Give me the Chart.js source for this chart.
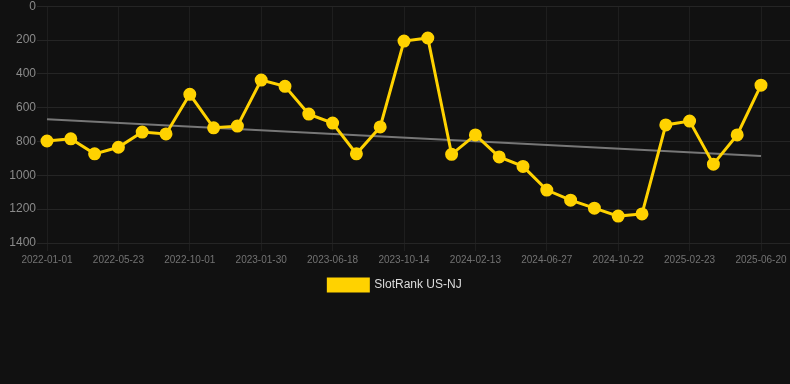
<!DOCTYPE html>
<html>
<head>
<meta charset="utf-8">
<script src="https://cdn.jsdelivr.net/npm/chart.js@4.4.0/dist/chart.umd.min.js"></script>
<style>
    html, body { margin: 0; padding: 0; background: #111111; overflow: hidden; }
    #wrap { width: 790px; height: 303px; margin-top: -2px; }
</style>
</head>
<body>
<div id="wrap"><canvas id="chart"></canvas></div>
<script>
var dates = ["2022-01-01", "2022-02-17", "2022-04-05", "2022-05-23", "2022-07-05", "2022-08-18",
    "2022-10-01", "2022-11-10", "2022-12-20", "2023-01-30", "2023-03-16", "2023-05-02",
    "2023-06-18", "2023-07-27", "2023-09-05", "2023-10-14", "2023-11-24", "2024-01-03",
    "2024-02-13", "2024-03-28", "2024-05-13", "2024-06-27", "2024-08-05", "2024-09-13",
    "2024-10-22", "2024-12-02", "2025-01-12", "2025-02-23", "2025-04-03", "2025-05-12",
    "2025-06-20"];

var rank_nj = [797, 784, 873, 834, 744, 755, 521, 719, 709, 437, 474, 638, 691, 873, 714, 206,
    188, 876, 761, 891, 947, 1087, 1147, 1194, 1241, 1228, 702, 679, 934, 761, 467];

// trend line, only its two ends are known
var trend_start = 668;
var trend_end = 886;

var yellow = '#ffd200';
var trend = Array(dates.length).fill(null);
trend[0] = trend_start;
trend[trend.length - 1] = trend_end;

var yScale = {
    reverse: true,
    min: 0,
    max: 1400,
    ticks: {
        stepSize: 200,
        color: '#8a8a8a',
        font: { size: 12 },
        padding: 1,
        callback: function (v) { return String(v); }
    },
    grid: { color: '#252525', tickLength: 10 },
    border: { display: false },
    afterFit: function (axis) { axis.width = 47; }
};

var ctx = document.getElementById('chart').getContext('2d');
var rankChart = new Chart(ctx, {
    type: 'line',
    data: {
        labels: dates,
        datasets: [{
            label: 'SlotRank US-NJ',
            data: rank_nj,
            borderColor: yellow,
            backgroundColor: yellow,
            borderWidth: 3,
            pointRadius: 5,
            pointHoverRadius: 5,
            pointBackgroundColor: yellow,
            pointBorderColor: yellow,
            tension: 0
        }, {
            label: 'trend',
            data: trend,
            spanGaps: true,
            borderColor: '#777777',
            borderWidth: 2,
            pointRadius: 0
        }]
    },
    options: {
        responsive: true,
        maintainAspectRatio: false,
        animation: false,
        scales: {
            x: {
                ticks: {
                    color: '#737373',
                    font: { size: 10 },
                    autoSkip: true,
                    maxTicksLimit: 11,
                    maxRotation: 0
                },
                grid: { color: '#1e1e1e' },
                border: { display: false }
            },
            y: yScale,
            // empty right axis, only there so the grid runs to the edge
            y2: Object.assign({}, yScale, {
                position: 'right',
                ticks: { display: false, stepSize: 200 },
                grid: { color: '#252525', drawOnChartArea: false, tickLength: 29 },
                afterFit: function (axis) { axis.width = 29; }
            })
        },
        plugins: {
            legend: {
                position: 'bottom',
                labels: {
                    color: '#dddddd',
                    font: { size: 12 },
                    boxWidth: 40,
                    boxHeight: 12,
                    filter: function (item) { return item.text !== 'trend'; }
                }
            },
            tooltip: { enabled: false }
        }
    }
});
</script>
</body>
</html>
